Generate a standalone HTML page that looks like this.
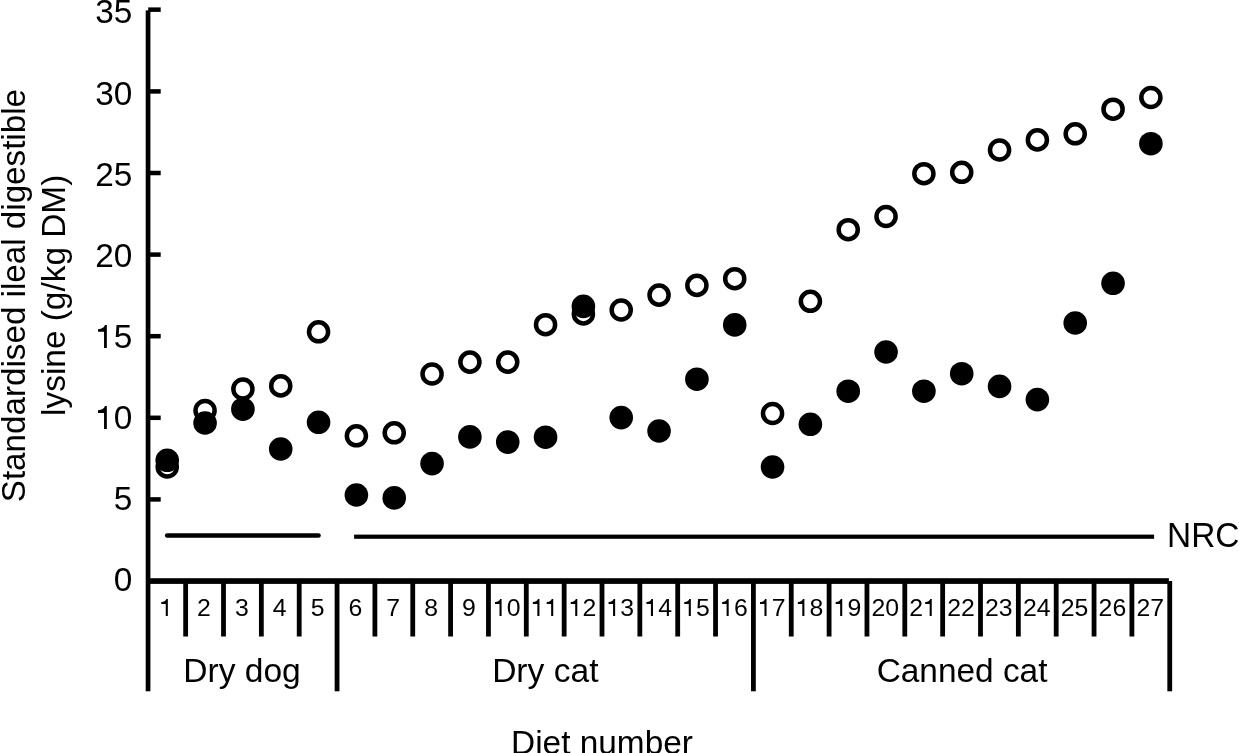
<!DOCTYPE html>
<html><head><meta charset="utf-8"><style>
html,body{margin:0;padding:0;background:#fff;}
svg{display:block;will-change:transform;}
text{font-family:"Liberation Sans", sans-serif;fill:#000;}
</style></head><body>
<svg width="1239" height="753" viewBox="0 0 1239 753">
<rect x="145.7" y="10.4" width="4.7" height="680.9" fill="#000"/>
<rect x="148.2" y="7.4" width="12.5" height="4.5" fill="#000"/>
<rect x="150" y="497.15" width="10.70" height="4.5" fill="#000"/>
<rect x="150" y="415.55" width="10.70" height="4.5" fill="#000"/>
<rect x="150" y="333.95" width="10.70" height="4.5" fill="#000"/>
<rect x="150" y="252.35" width="10.70" height="4.5" fill="#000"/>
<rect x="150" y="170.75" width="10.70" height="4.5" fill="#000"/>
<rect x="150" y="89.15" width="10.70" height="4.5" fill="#000"/>
<text x="113.82" y="591.20" font-size="33.4">0</text>
<text x="113.82" y="510.11" font-size="33.4">5</text>
<path transform="translate(95.25,429.02) scale(0.01631,-0.01631)" d="M539,0L711,0L711,1409L590,1409C560,1290 430,1160 170,1150L170,985L539,985Z"/>
<text x="113.82" y="429.02" font-size="33.4">0</text>
<path transform="translate(95.25,347.93) scale(0.01631,-0.01631)" d="M539,0L711,0L711,1409L590,1409C560,1290 430,1160 170,1150L170,985L539,985Z"/>
<text x="113.82" y="347.93" font-size="33.4">5</text>
<text x="95.25" y="266.84" font-size="33.4">2</text>
<text x="113.82" y="266.84" font-size="33.4">0</text>
<text x="95.25" y="185.75" font-size="33.4">2</text>
<text x="113.82" y="185.75" font-size="33.4">5</text>
<text x="95.25" y="104.66" font-size="33.4">3</text>
<text x="113.82" y="104.66" font-size="33.4">0</text>
<text x="95.25" y="22.87" font-size="33.4">3</text>
<text x="113.82" y="22.87" font-size="33.4">5</text>
<rect x="146" y="578.2" width="1022.9000000000001" height="5.7" fill="#000"/>
<rect x="183.25" y="581" width="4.8" height="55.50" fill="#000"/>
<rect x="221.10" y="581" width="4.8" height="55.50" fill="#000"/>
<rect x="258.95" y="581" width="4.8" height="55.50" fill="#000"/>
<rect x="296.80" y="581" width="4.8" height="55.50" fill="#000"/>
<rect x="334.65" y="581" width="4.8" height="110.30" fill="#000"/>
<rect x="372.50" y="581" width="4.8" height="55.50" fill="#000"/>
<rect x="410.35" y="581" width="4.8" height="55.50" fill="#000"/>
<rect x="448.20" y="581" width="4.8" height="55.50" fill="#000"/>
<rect x="486.05" y="581" width="4.8" height="55.50" fill="#000"/>
<rect x="523.90" y="581" width="4.8" height="55.50" fill="#000"/>
<rect x="561.75" y="581" width="4.8" height="55.50" fill="#000"/>
<rect x="599.60" y="581" width="4.8" height="55.50" fill="#000"/>
<rect x="637.45" y="581" width="4.8" height="55.50" fill="#000"/>
<rect x="675.30" y="581" width="4.8" height="55.50" fill="#000"/>
<rect x="713.15" y="581" width="4.8" height="55.50" fill="#000"/>
<rect x="751.00" y="581" width="4.8" height="110.30" fill="#000"/>
<rect x="788.85" y="581" width="4.8" height="55.50" fill="#000"/>
<rect x="826.70" y="581" width="4.8" height="55.50" fill="#000"/>
<rect x="864.55" y="581" width="4.8" height="55.50" fill="#000"/>
<rect x="902.40" y="581" width="4.8" height="55.50" fill="#000"/>
<rect x="940.25" y="581" width="4.8" height="55.50" fill="#000"/>
<rect x="978.10" y="581" width="4.8" height="55.50" fill="#000"/>
<rect x="1015.95" y="581" width="4.8" height="55.50" fill="#000"/>
<rect x="1053.80" y="581" width="4.8" height="55.50" fill="#000"/>
<rect x="1091.65" y="581" width="4.8" height="55.50" fill="#000"/>
<rect x="1129.50" y="581" width="4.8" height="55.50" fill="#000"/>
<rect x="1167.35" y="581" width="4.8" height="110.30" fill="#000"/>
<path transform="translate(159.23,616.00) scale(0.01211,-0.01211)" d="M539,0L711,0L711,1409L590,1409C560,1290 430,1160 170,1150L170,985L539,985Z"/>
<text x="197.08" y="616.00" font-size="24.8">2</text>
<text x="234.93" y="616.00" font-size="24.8">3</text>
<text x="272.78" y="616.00" font-size="24.8">4</text>
<text x="310.63" y="616.00" font-size="24.8">5</text>
<text x="348.48" y="616.00" font-size="24.8">6</text>
<text x="386.33" y="616.00" font-size="24.8">7</text>
<text x="424.18" y="616.00" font-size="24.8">8</text>
<text x="462.03" y="616.00" font-size="24.8">9</text>
<path transform="translate(492.98,616.00) scale(0.01211,-0.01211)" d="M539,0L711,0L711,1409L590,1409C560,1290 430,1160 170,1150L170,985L539,985Z"/>
<text x="506.77" y="616.00" font-size="24.8">0</text>
<path transform="translate(530.83,616.00) scale(0.01211,-0.01211)" d="M539,0L711,0L711,1409L590,1409C560,1290 430,1160 170,1150L170,985L539,985Z"/>
<path transform="translate(544.62,616.00) scale(0.01211,-0.01211)" d="M539,0L711,0L711,1409L590,1409C560,1290 430,1160 170,1150L170,985L539,985Z"/>
<path transform="translate(568.68,616.00) scale(0.01211,-0.01211)" d="M539,0L711,0L711,1409L590,1409C560,1290 430,1160 170,1150L170,985L539,985Z"/>
<text x="582.48" y="616.00" font-size="24.8">2</text>
<path transform="translate(606.53,616.00) scale(0.01211,-0.01211)" d="M539,0L711,0L711,1409L590,1409C560,1290 430,1160 170,1150L170,985L539,985Z"/>
<text x="620.32" y="616.00" font-size="24.8">3</text>
<path transform="translate(644.38,616.00) scale(0.01211,-0.01211)" d="M539,0L711,0L711,1409L590,1409C560,1290 430,1160 170,1150L170,985L539,985Z"/>
<text x="658.18" y="616.00" font-size="24.8">4</text>
<path transform="translate(682.23,616.00) scale(0.01211,-0.01211)" d="M539,0L711,0L711,1409L590,1409C560,1290 430,1160 170,1150L170,985L539,985Z"/>
<text x="696.02" y="616.00" font-size="24.8">5</text>
<path transform="translate(720.08,616.00) scale(0.01211,-0.01211)" d="M539,0L711,0L711,1409L590,1409C560,1290 430,1160 170,1150L170,985L539,985Z"/>
<text x="733.88" y="616.00" font-size="24.8">6</text>
<path transform="translate(757.93,616.00) scale(0.01211,-0.01211)" d="M539,0L711,0L711,1409L590,1409C560,1290 430,1160 170,1150L170,985L539,985Z"/>
<text x="771.73" y="616.00" font-size="24.8">7</text>
<path transform="translate(795.78,616.00) scale(0.01211,-0.01211)" d="M539,0L711,0L711,1409L590,1409C560,1290 430,1160 170,1150L170,985L539,985Z"/>
<text x="809.57" y="616.00" font-size="24.8">8</text>
<path transform="translate(833.63,616.00) scale(0.01211,-0.01211)" d="M539,0L711,0L711,1409L590,1409C560,1290 430,1160 170,1150L170,985L539,985Z"/>
<text x="847.43" y="616.00" font-size="24.8">9</text>
<text x="871.48" y="616.00" font-size="24.8">2</text>
<text x="885.27" y="616.00" font-size="24.8">0</text>
<text x="909.33" y="616.00" font-size="24.8">2</text>
<path transform="translate(923.13,616.00) scale(0.01211,-0.01211)" d="M539,0L711,0L711,1409L590,1409C560,1290 430,1160 170,1150L170,985L539,985Z"/>
<text x="947.18" y="616.00" font-size="24.8">2</text>
<text x="960.98" y="616.00" font-size="24.8">2</text>
<text x="985.03" y="616.00" font-size="24.8">2</text>
<text x="998.82" y="616.00" font-size="24.8">3</text>
<text x="1022.88" y="616.00" font-size="24.8">2</text>
<text x="1036.68" y="616.00" font-size="24.8">4</text>
<text x="1060.73" y="616.00" font-size="24.8">2</text>
<text x="1074.53" y="616.00" font-size="24.8">5</text>
<text x="1098.58" y="616.00" font-size="24.8">2</text>
<text x="1112.38" y="616.00" font-size="24.8">6</text>
<text x="1136.43" y="616.00" font-size="24.8">2</text>
<text x="1150.23" y="616.00" font-size="24.8">7</text>
<text x="242.0" y="681.8" text-anchor="middle" font-size="33.6">Dry dog</text>
<text x="545.3" y="681.8" text-anchor="middle" font-size="33.6">Dry cat</text>
<text x="962.1" y="682" text-anchor="middle" font-size="33.4">Canned cat</text>
<text x="602.0" y="753.5" text-anchor="middle" font-size="33.4">Diet number</text>
<line x1="167.2" y1="535.5" x2="318.5" y2="535.5" stroke="#000" stroke-width="4.6" stroke-linecap="round"/>
<rect x="354.1" y="534.6" width="799.9999999999999" height="4.2" fill="#000"/>
<text transform="translate(1167.1,546.6) scale(1,1.03)" x="0" y="0" font-size="33.4">NRC</text>
<g transform="translate(24.7,295.6) rotate(-90)"><text x="0" y="0" text-anchor="middle" font-size="33.2">Standardised ileal digestible</text></g>
<g transform="translate(64.8,295.3) rotate(-90)"><text x="0" y="0" text-anchor="middle" font-size="33.4">lysine (g/kg DM)</text></g>
<circle cx="167.23" cy="467.0" r="9.55" fill="#fff" stroke="#000" stroke-width="4.5"/>
<circle cx="167.23" cy="460.3" r="11.80" fill="#000"/>
<circle cx="205.06" cy="410.5" r="9.55" fill="#fff" stroke="#000" stroke-width="4.5"/>
<circle cx="205.06" cy="423.0" r="11.80" fill="#000"/>
<circle cx="242.90" cy="389.0" r="9.55" fill="#fff" stroke="#000" stroke-width="4.5"/>
<circle cx="242.90" cy="409.2" r="11.80" fill="#000"/>
<circle cx="280.73" cy="385.9" r="9.55" fill="#fff" stroke="#000" stroke-width="4.5"/>
<circle cx="280.73" cy="449.0" r="11.80" fill="#000"/>
<circle cx="318.56" cy="331.8" r="9.55" fill="#fff" stroke="#000" stroke-width="4.5"/>
<circle cx="318.56" cy="422.3" r="11.80" fill="#000"/>
<circle cx="356.39" cy="435.8" r="9.55" fill="#fff" stroke="#000" stroke-width="4.5"/>
<circle cx="356.39" cy="495.0" r="11.80" fill="#000"/>
<circle cx="394.23" cy="432.8" r="9.55" fill="#fff" stroke="#000" stroke-width="4.5"/>
<circle cx="394.23" cy="497.9" r="11.80" fill="#000"/>
<circle cx="432.06" cy="374.0" r="9.55" fill="#fff" stroke="#000" stroke-width="4.5"/>
<circle cx="432.06" cy="463.6" r="11.80" fill="#000"/>
<circle cx="469.89" cy="362.1" r="9.55" fill="#fff" stroke="#000" stroke-width="4.5"/>
<circle cx="469.89" cy="436.9" r="11.80" fill="#000"/>
<circle cx="507.73" cy="362.1" r="9.55" fill="#fff" stroke="#000" stroke-width="4.5"/>
<circle cx="507.73" cy="442.1" r="11.80" fill="#000"/>
<circle cx="545.56" cy="324.7" r="9.55" fill="#fff" stroke="#000" stroke-width="4.5"/>
<circle cx="545.56" cy="437.2" r="11.80" fill="#000"/>
<circle cx="583.39" cy="313.9" r="9.55" fill="#fff" stroke="#000" stroke-width="4.5"/>
<circle cx="583.39" cy="306.4" r="11.80" fill="#000"/>
<circle cx="621.22" cy="310.0" r="9.55" fill="#fff" stroke="#000" stroke-width="4.5"/>
<circle cx="621.22" cy="417.6" r="11.80" fill="#000"/>
<circle cx="659.06" cy="295.1" r="9.55" fill="#fff" stroke="#000" stroke-width="4.5"/>
<circle cx="659.06" cy="431.0" r="11.80" fill="#000"/>
<circle cx="696.89" cy="285.4" r="9.55" fill="#fff" stroke="#000" stroke-width="4.5"/>
<circle cx="696.89" cy="379.2" r="11.80" fill="#000"/>
<circle cx="734.72" cy="278.7" r="9.55" fill="#fff" stroke="#000" stroke-width="4.5"/>
<circle cx="734.72" cy="324.9" r="11.80" fill="#000"/>
<circle cx="772.55" cy="413.5" r="9.55" fill="#fff" stroke="#000" stroke-width="4.5"/>
<circle cx="772.55" cy="467.0" r="11.80" fill="#000"/>
<circle cx="810.38" cy="301.3" r="9.55" fill="#fff" stroke="#000" stroke-width="4.5"/>
<circle cx="810.38" cy="424.3" r="11.80" fill="#000"/>
<circle cx="848.22" cy="229.7" r="9.55" fill="#fff" stroke="#000" stroke-width="4.5"/>
<circle cx="848.22" cy="391.2" r="11.80" fill="#000"/>
<circle cx="886.05" cy="216.5" r="9.55" fill="#fff" stroke="#000" stroke-width="4.5"/>
<circle cx="886.05" cy="352.0" r="11.80" fill="#000"/>
<circle cx="923.88" cy="173.7" r="9.55" fill="#fff" stroke="#000" stroke-width="4.5"/>
<circle cx="923.88" cy="391.2" r="11.80" fill="#000"/>
<circle cx="961.72" cy="172.3" r="9.55" fill="#fff" stroke="#000" stroke-width="4.5"/>
<circle cx="961.72" cy="373.7" r="11.80" fill="#000"/>
<circle cx="999.55" cy="150.0" r="9.55" fill="#fff" stroke="#000" stroke-width="4.5"/>
<circle cx="999.55" cy="386.4" r="11.80" fill="#000"/>
<circle cx="1037.38" cy="139.9" r="9.55" fill="#fff" stroke="#000" stroke-width="4.5"/>
<circle cx="1037.38" cy="399.6" r="11.80" fill="#000"/>
<circle cx="1075.21" cy="133.8" r="9.55" fill="#fff" stroke="#000" stroke-width="4.5"/>
<circle cx="1075.21" cy="323.0" r="11.80" fill="#000"/>
<circle cx="1113.05" cy="109.2" r="9.55" fill="#fff" stroke="#000" stroke-width="4.5"/>
<circle cx="1113.05" cy="283.3" r="11.80" fill="#000"/>
<circle cx="1150.88" cy="97.5" r="9.55" fill="#fff" stroke="#000" stroke-width="4.5"/>
<circle cx="1150.88" cy="143.7" r="11.80" fill="#000"/>
</svg>
</body></html>
